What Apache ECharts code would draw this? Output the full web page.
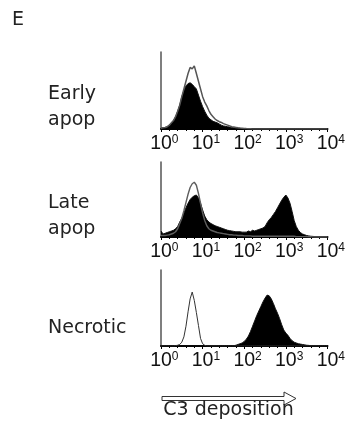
<!DOCTYPE html>
<html><head><meta charset="utf-8">
<script src="https://cdn.jsdelivr.net/npm/echarts@6/dist/echarts.min.js"></script>
<style>html,body{margin:0;padding:0;background:#fff}#c{width:348px;height:426px}</style>
</head><body><div id="c"></div>
<script>
// log10 of fluorescence intensity (bin centres)
const logBins = [
  0.00,0.05,0.10,0.15,0.20,0.25,0.30,0.35,0.40,0.45,
  0.50,0.55,0.60,0.65,0.70,0.75,0.80,0.85,0.90,0.95,
  1.00,1.05,1.10,1.15,1.20,1.25,1.30,1.35,1.40,1.45,
  1.50,1.55,1.60,1.65,1.70,1.75,1.80,1.85,1.90,1.95,
  2.00,2.05,2.10,2.15,2.20,2.25,2.30,2.35,2.40,2.45,
  2.50,2.55,2.60,2.65,2.70,2.75,2.80,2.85,2.90,2.95,
  3.00,3.05,3.10,3.15,3.20,3.25,3.30,3.35,3.40,3.45,
  3.50,3.55,3.60,3.65,3.70,3.75,3.80,3.85,3.90,3.95,
  4.00
];
const tickBase = '10';
const tickExponents = ['0','1','2','3','4'];
const figureLetter = 'E';
const panelLabels = ['Early\napop', 'Late\napop', 'Necrotic'];
const axisTitle = 'C3 deposition';

// Early apoptotic: C3 (filled) and control (open)
const earlyBlack = [
  1,1.5,2,3,5,8,11,16,23,31,
  42,50,56,59,60,58,55,52,44,36,
  29,23,18,14,12,10,9,8,6.5,5,
  4,3.5,3,2.5,2,1.6,1.3,1,0.8,0.6,
  0.5,0.3,0.2,0,0,0,0,0,0,0,
  0,0,0,0,0,0,0,0,0,0,
  0,0,0,0,0,0,0,0,0,0,
  0,0,0,0,0,0,0,0,0,0,
  0
];
const earlyOpen = [
  1,1.5,2,3,5,8,11,16,23,31,
  42,52,62,72,80,78,82,72,62,52,
  42,35,30,24,19,16,13,11,9.5,8.5,
  7,6,5,4,3,2.5,2,1.5,1.2,1,
  0.8,0.5,0.3,0.2,0,0,0,0,0,0,
  0,0,0,0,0,0,0,0,0,0,
  0,0,0,0,0,0,0,0,0,0,
  0,0,0,0,0,0,0,0,0,0,
  0
];
// Late apoptotic
const lateBlack = [
  8,4,5,6,7,8,9,11,14,20,
  25,32,39,45,50,53,55,56,52,45,
  36,28,23,20,18,16.5,15,14,13,12,
  11,10,9,8.5,8,7.5,7,7,7,6.5,
  6.5,6.5,8,7,9,8,9,10,11,12,
  14,19,23,26,30,34,39,44,49,53,
  56,52,45,34,22,14,9,6,4,3,
  2,1.5,1,0.8,0.5,0.3,0.2,0,0,0,
  0
];
const lateOpen = [
  2,2,2,2.5,3,4,5,7,11,18,
  25,35,46,57,66,71,73,69,58,45,
  32,22,15,11,9,8,7,6,5.5,5,
  4.5,4,3.5,3,3,2.5,2.5,2,2,2,
  1.5,1.5,1.5,1.5,1,1,1,1,1,1,
  1,1,1,1,1,1,1,1,1,1,
  1,1,1,1,1,0.5,0.5,0.5,0.5,0.5,
  0.5,0.3,0.3,0.2,0,0,0,0,0,0,
  0
];
// Necrotic
const necroBlack = [
  0,0,0,0,0,0,0,0,0,0,
  0,0,0,0,0,0,0,0,0,0,
  0,0,0,0,0,0,0,0,0,0,
  0,0,0,0,0,0.5,1,2,3,4,
  6,9,13,19,26,33,40,46,52,58,
  63,67,66,62,56,49,43,36,28,21,
  17,14,10,7,5,4,3,2.5,2,1.5,
  1,0.8,0.5,0.4,0.3,0.2,0.1,0,0,0,
  0
];
const necroOpen = [
  0,0,0,0,0,0,0,0.5,1,2,
  5,12,26,45,62,71,60,44,27,10,
  3,1,0,0,0,0,0,0,0,0,
  0,0,0,0,0,0,0,0,0,0,
  0,0,0,0,0,0,0,0,0,0,
  0,0,0,0,0,0,0,0,0,0,
  0,0,0,0,0,0,0,0,0,0,
  0,0,0,0,0,0,0,0,0,0,
  0
];

const panels = [
  {black: earlyBlack, open: earlyOpen, openColor: '#555555', openWidth: 1.5},
  {black: lateBlack, open: lateOpen, openColor: '#5e5e5e', openWidth: 1.4},
  {black: necroBlack, open: necroOpen, openColor: '#333333', openWidth: 1}
];
const gridBoxes = [
  {left: 161, top: 52, width: 168, height: 77},
  {left: 161, top: 162, width: 168, height: 75},
  {left: 161, top: 270, width: 168, height: 76}
];
const labelTops = [81.5, 190.5, 315.5];

function pairs(ys) { return logBins.map((x, i) => [x, ys[i]]); }

const tickFont = 'Liberation Sans';
const textFont = 'DejaVu Sans';

const option = {
  animation: false,
  backgroundColor: '#ffffff',
  grid: gridBoxes.map(g => Object.assign({containLabel: false}, g)),
  xAxis: gridBoxes.map((g, i) => ({
    gridIndex: i, type: 'value', min: 0, max: 4, interval: 1,
    axisLine: {show: true, onZero: false, lineStyle: {color: '#000', width: 2}},
    axisTick: {show: true, length: 3, lineStyle: {color: '#000', width: 1}},
    minorTick: {show: true, splitNumber: 5, length: 2, lineStyle: {color: '#000', width: 1}},
    splitLine: {show: false},
    axisLabel: {
      show: true, margin: 5, showMinLabel: true, showMaxLabel: true, hideOverlap: false,
      formatter: v => '{h|' + tickExponents[v] + '}{b|' + tickBase + '}{s|' + tickExponents[v] + '}',
      rich: {
        h: {fontFamily: tickFont, fontSize: 12, lineHeight: 13, verticalAlign: 'top', color: 'transparent'},
        b: {fontFamily: tickFont, fontSize: 19.5, lineHeight: 20, color: '#111'},
        s: {fontFamily: tickFont, fontSize: 12, lineHeight: 13, verticalAlign: 'top', color: '#111'}
      }
    }
  })),
  yAxis: gridBoxes.map((g, i) => ({
    gridIndex: i, type: 'value', min: 0, max: 100,
    axisLine: {show: true, lineStyle: {color: '#555', width: 1.5}},
    axisTick: {show: false}, axisLabel: {show: false}, splitLine: {show: false}
  })),
  title: [
    {text: figureLetter, left: 12, top: 7, padding: 0,
     textStyle: {fontFamily: textFont, fontSize: 19, fontWeight: 'normal', color: '#222', lineHeight: 26}}
  ].concat(panelLabels.map((t, i) => ({
    text: t, left: 48, top: labelTops[i], padding: 0,
    textStyle: {fontFamily: textFont, fontSize: 19, fontWeight: 'normal', color: '#222', lineHeight: 26}
  }))),
  graphic: [
    {type: 'polygon', silent: true,
     shape: {points: [[162, 396.5], [284, 396.5], [284, 392], [296, 398.5], [284, 405], [284, 400.5], [162, 400.5]]},
     style: {fill: '#fff', stroke: '#333', lineWidth: 1}},
    {type: 'text', silent: true,
     style: {text: axisTitle, x: 228.5, y: 410, align: 'center', verticalAlign: 'middle',
             fontFamily: textFont, fontSize: 19, fill: '#222'}}
  ],
  series: []
};

panels.forEach((p, i) => {
  option.series.push({
    type: 'line', xAxisIndex: i, yAxisIndex: i, data: pairs(p.black),
    symbol: 'none', silent: true, z: 2,
    lineStyle: {color: '#111', width: 1},
    areaStyle: {color: '#000', opacity: 1}
  });
  option.series.push({
    type: 'line', xAxisIndex: i, yAxisIndex: i, data: pairs(p.open),
    symbol: 'none', silent: true, z: 3,
    lineStyle: {color: p.openColor, width: p.openWidth}
  });
});

const chart = echarts.init(document.getElementById('c'), null, {renderer: 'canvas'});
chart.setOption(option);
</script>
</body></html>
